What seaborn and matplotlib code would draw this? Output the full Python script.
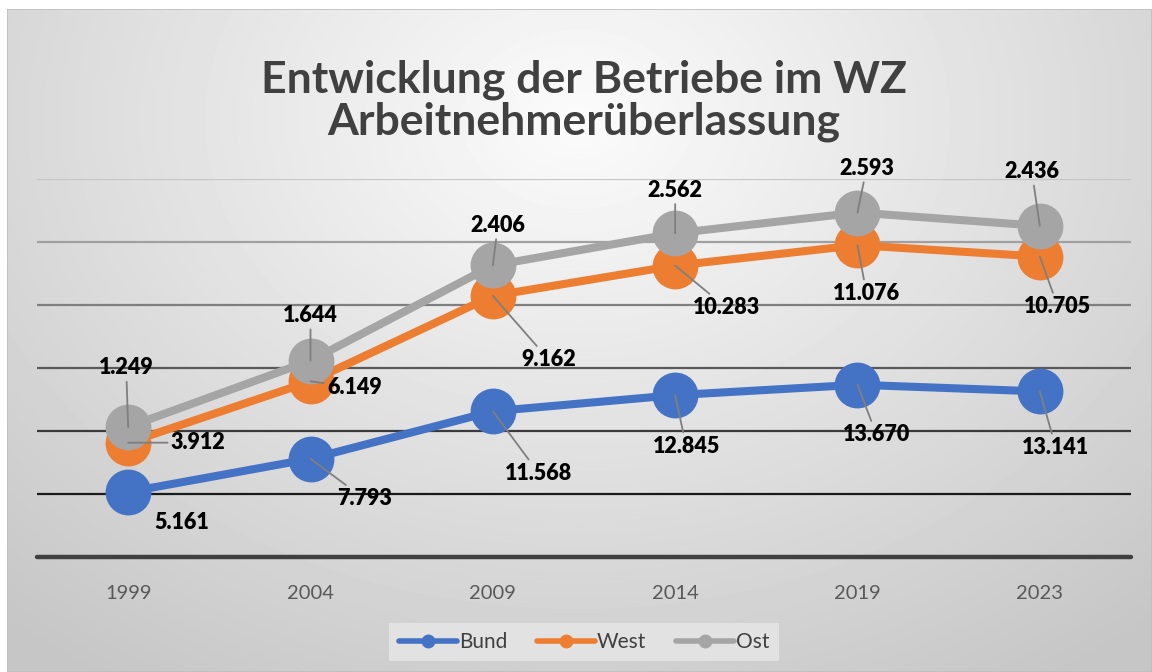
import numpy as np
import pandas as pd
import matplotlib
matplotlib.use("Agg")
import matplotlib.pyplot as plt
import seaborn as sns
from matplotlib.lines import Line2D

# --- Data (Betriebe, stacked line chart) ---
years = ["1999", "2004", "2009", "2014", "2019", "2023"]
bund = [5161, 7793, 11568, 12845, 13670, 13141]
west = [3912, 6149, 9162, 10283, 11076, 10705]
ost = [1249, 1644, 2406, 2562, 2593, 2436]

series_names = ["Bund", "West", "Ost"]
colors = ["#4472C4", "#ED7D31", "#A5A5A5"]

# label offsets in pixels (layout only)
label_offsets = {
    "Bund": [(54, -31), (54, -40), (46, -62), (11, -51), (19, -50), (16, -56)],
    "West": [(70, 0), (44, -6), (56, -64), (51, -42), (9, -48), (18, -50)],
    "Ost": [(-2, 59), (0, 45), (5, 40), (0, 43), (9, 44), (-8, 54)],
}


def fmt_de(v):
    return f"{v:,}".replace(",", ".")


def run_chart():
    sns.set_theme(style="white")
    plt.rcParams["font.family"] = ["Lato", "DejaVu Sans"]

    W, H, DPI = 1152, 672, 100
    fig = plt.figure(figsize=(W / DPI, H / DPI), dpi=DPI)
    fig.patch.set_facecolor("white")

    # 1. Gradient background (Excel style)
    bg = fig.add_axes([7 / W, 0, 1 - 7 / W, (H - 9) / H])
    yy, xx = np.mgrid[0:H - 9, 0:W - 7]
    r = np.sqrt(((xx - 570) / 720.0) ** 2 + ((yy - 110) / 560.0) ** 2)
    v = 0.985 - 0.21 * np.clip(r, 0, 1.2) / 1.2
    bg.imshow(v, cmap="gray", vmin=0, vmax=1, aspect="auto", interpolation="bilinear")
    bg.set_axis_off()
    bg.add_patch(plt.Rectangle((0, 0), 1, 1, transform=bg.transAxes, fill=False,
                               edgecolor="#bfbfbf", lw=1.2))

    # 2. Plot axes
    ax = fig.add_axes([37 / W, (H - 557) / H, (1131 - 37) / W, (557 - 179) / H])
    ax.patch.set_alpha(0)

    df = pd.DataFrame({"year": years, "Bund": bund, "West": west, "Ost": ost})
    df["x"] = np.arange(len(years))
    stacked = df[series_names].cumsum(axis=1)

    for i, name in enumerate(series_names):
        sns.lineplot(x=df["x"], y=stacked[name], ax=ax, color=colors[i], lw=5.8,
                     marker="o", markersize=33, markeredgewidth=0, zorder=3 + i)

    ax.set_xlim(-0.5, len(years) - 0.5)
    ax.set_ylim(0, 30000)
    ax.set_yticks(np.arange(5000, 30001, 5000))
    ax.set_yticklabels([])
    ax.tick_params(axis="y", length=0)
    grid_cols = ["#1a1a1a", "#3a3a3a", "#595959", "#7f7f7f", "#a0a0a0", "#c6c6c6"]
    for yv, c in zip(np.arange(5000, 30001, 5000), grid_cols):
        ax.axhline(yv, color=c, lw=1.6, zorder=1)
    ax.axhline(0, color="#404040", lw=3.2, zorder=2, clip_on=False)
    for s in ax.spines.values():
        s.set_visible(False)

    ax.set_xticks(df["x"])
    ax.set_xticklabels(years, fontsize=14.5, color="#595959")
    ax.tick_params(axis="x", length=0, pad=20)
    ax.set_xlabel("")
    ax.set_ylabel("")

    # 3. Data labels with leader lines
    for name in series_names:
        for j in range(len(years)):
            dx, dy = label_offsets[name][j]
            arrow = None
            if not (name == "Bund" and j == 0):
                arrow = dict(arrowstyle="-", color="#7f7f7f", lw=1.3,
                             shrinkA=0, shrinkB=0)
            ax.annotate(fmt_de(int(df[name][j])), xy=(df["x"][j], stacked[name][j]),
                        xytext=(dx, dy), textcoords="offset pixels",
                        ha="center", va="center", fontsize=15.5, fontweight="heavy",
                        color="black", arrowprops=arrow, zorder=10,
                        annotation_clip=False)

    # 4. Title
    fig.text(584 / W, 1 - 80 / H, "Entwicklung der Betriebe im WZ", ha="center",
             va="center", fontsize=32, fontweight="bold", color="#404040")
    fig.text(584 / W, 1 - 122 / H, "Arbeitnehmerüberlassung", ha="center",
             va="center", fontsize=32, fontweight="bold", color="#404040")

    # 5. Legend
    handles = [Line2D([0], [0], color=c, lw=4, marker="o", markersize=10,
                      markeredgewidth=0) for c in colors]
    leg = fig.legend(handles, series_names, loc="center",
                     bbox_to_anchor=(584 / W, 1 - 642 / H), ncol=3, fontsize=15,
                     frameon=True, handlelength=2.8, handletextpad=0.1,
                     columnspacing=1.4, borderpad=0.45)
    leg.get_frame().set_facecolor("#e2e2e2")
    leg.get_frame().set_edgecolor("none")
    leg.get_frame().set_alpha(1)
    leg.get_frame().set_boxstyle("square", pad=0)
    for t in leg.get_texts():
        t.set_color("#404040")

    fig.savefig("out.png", dpi=DPI)


if __name__ == "__main__":
    run_chart()
